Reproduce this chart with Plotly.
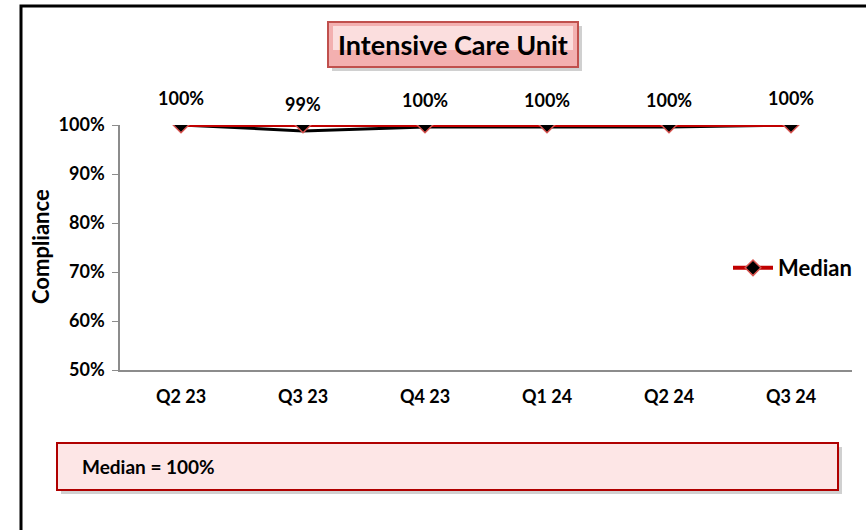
import plotly.graph_objects as go

# chart data
quarters = ["Q2 23", "Q3 23", "Q4 23", "Q1 24", "Q2 24", "Q3 24"]
compliance = [1.0, 0.988, 0.996, 0.996, 0.996, 1.0]
compliance_labels = ["100%", "99%", "100%", "100%", "100%", "100%"]
median = [1.0, 1.0, 1.0, 1.0, 1.0, 1.0]
y_ticks = [0.5, 0.6, 0.7, 0.8, 0.9, 1.0]

FONT = "Lato"
W, H = 866, 530
L, R, T, B = 120, 14, 125, 160
PW, PH = W - L - R, H - T - B


def px_x(px):
    return (px - L) / PW


def px_y(py):
    return (H - B - py) / PH


def note(px, py, text, size, **kw):
    kw.setdefault("xanchor", "center")
    fig.add_annotation(xref="paper", yref="paper", x=px_x(px), y=px_y(py),
                       yanchor="middle", text=text, showarrow=False,
                       font=dict(size=size, color="black", family=FONT), **kw)


def box(x0, y0, x1, y1, **kw):
    fig.add_shape(type="rect", xref="paper", yref="paper",
                  x0=px_x(x0), x1=px_x(x1), y0=px_y(y1), y1=px_y(y0), **kw)


fig = go.Figure()

fig.add_trace(go.Scatter(
    x=quarters, y=compliance, mode="lines",
    line=dict(color="black", width=3), showlegend=False, hoverinfo="skip",
))
fig.add_trace(go.Scatter(
    x=quarters, y=median, mode="lines+markers", name="<b>Median</b>",
    line=dict(color="#c00000", width=4),
    marker=dict(symbol="diamond", size=12, color="black",
                line=dict(color="#d9534f", width=1.5)),
))

for q, v, lab in zip(quarters, compliance, compliance_labels):
    fig.add_annotation(x=q, y=v, text="<b>%s</b>" % lab, showarrow=False,
                       yshift=27, font=dict(size=18, color="black", family=FONT))

# outer frame
box(21, 6, 874, 540, line=dict(color="black", width=3),
    fillcolor="rgba(0,0,0,0)")

# title box
box(332, 26, 582, 71, line=dict(width=0), fillcolor="rgba(120,120,120,0.35)")
box(328, 22, 578, 67, line=dict(color="#c0504d", width=2), fillcolor="#f3b0b0")
box(333, 26, 573, 50, line=dict(width=0), fillcolor="#fbdede")
note(453, 44, "<b>Intensive Care Unit</b>", 27)

# bottom median box
box(61, 447, 842, 494, line=dict(width=0), fillcolor="rgba(120,120,120,0.35)")
box(57, 443, 838, 490, line=dict(color="#b00000", width=2), fillcolor="#fde6e6")
note(80, 467, "<b>Median = 100%</b>", 19, xanchor="left")

# y axis title
note(40, 247, "<b>Compliance</b>", 22, textangle=-90)

fig.update_layout(
    width=W, height=H,
    margin=dict(l=L, r=R, t=T, b=B, autoexpand=False),
    paper_bgcolor="white", plot_bgcolor="white",
    font=dict(family=FONT, color="black"),
    legend=dict(xref="container", yref="container", x=728 / W, y=(H - 268) / H,
                xanchor="left", yanchor="middle",
                font=dict(size=22, family=FONT, color="black"),
                bgcolor="rgba(0,0,0,0)", itemwidth=40),
    xaxis=dict(range=[-0.5, 5.5], showgrid=False, showline=True,
               linecolor="#8c8c8c", linewidth=1.5, ticks="",
               tickfont=dict(size=18, family=FONT, color="black"),
               tickvals=quarters, ticktext=["<b>%s</b>" % q for q in quarters],
               ticklabelstandoff=10),
    yaxis=dict(range=[0.5, 1.0], tickvals=y_ticks,
               ticktext=["<b>%d%%</b>" % round(v * 100) for v in y_ticks],
               showgrid=False, showline=True, linecolor="#8c8c8c",
               linewidth=1.5, ticks="outside", ticklen=6, tickcolor="#8c8c8c",
               tickfont=dict(size=18, family=FONT, color="black"),
               ticklabelstandoff=4, zeroline=False),
)

fig.write_html("out.html", config={"displayModeBar": False},
               post_script="document.body.style.margin='0';")
